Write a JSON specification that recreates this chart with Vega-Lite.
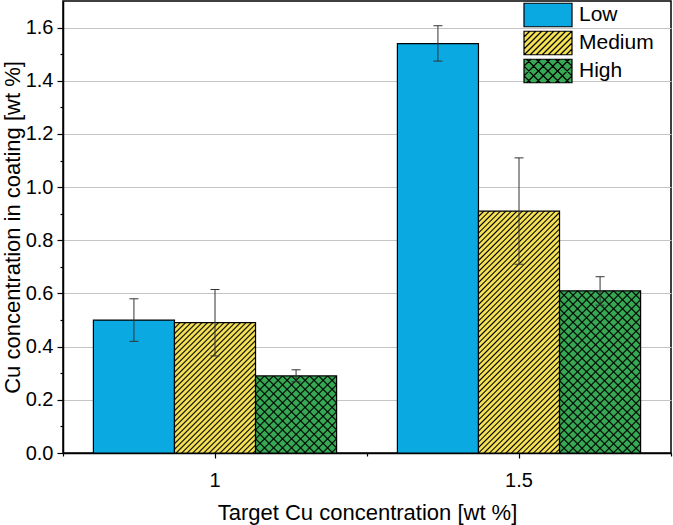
{
"$schema": "https://vega.github.io/schema/vega-lite/v6.json",
"width": 608,
"height": 452,
"autosize": {"type": "none"},
"padding": {"left": 63, "top": 1, "right": 2, "bottom": 72},
"background": "white",
"config": {
  "font": "Liberation Sans",
  "view": {"stroke": "black", "strokeWidth": 1.5},
  "axis": {"domainColor": "black", "domainWidth": 1.5, "tickColor": "black", "tickWidth": 1.2, "labelColor": "black", "titleColor": "black", "labelFont": "Liberation Sans", "titleFont": "Liberation Sans", "labelFontSize": 20, "titleFontSize": 22, "titleFontWeight": "normal"}
},
"data": {"values": [
  {"Group": "1", "Series": "Low", "Value": 0.50, "Lo": 0.42, "Hi": 0.58},
  {"Group": "1", "Series": "Medium", "Value": 0.49, "Lo": 0.365, "Hi": 0.615},
  {"Group": "1", "Series": "High", "Value": 0.29, "Lo": 0.268, "Hi": 0.313},
  {"Group": "1.5", "Series": "Low", "Value": 1.54, "Lo": 1.474, "Hi": 1.607},
  {"Group": "1.5", "Series": "Medium", "Value": 0.91, "Lo": 0.71, "Hi": 1.11},
  {"Group": "1.5", "Series": "High", "Value": 0.61, "Lo": 0.556, "Hi": 0.663}
]},
"encoding": {
  "x": {"field": "Group", "type": "nominal", "scale": {"domain": ["1", "1.5"], "paddingInner": 0, "paddingOuter": 0}, "axis": null},
  "xOffset": {"field": "Series", "type": "nominal", "scale": {"domain": ["Low", "Medium", "High"], "paddingInner": 0, "paddingOuter": 0.375}},
  "y": {"field": "Value", "type": "quantitative", "scale": {"domain": [0, 1.7], "nice": false},
    "axis": {"title": "Cu concentration in coating [wt %]", "values": [0, 0.1, 0.2, 0.3, 0.4, 0.5, 0.6, 0.7, 0.8, 0.9, 1, 1.1, 1.2, 1.3, 1.4, 1.5, 1.6],
      "labelExpr": "round(datum.value*10)%2==0 ? format(datum.value,'.1f') : ''",
      "tickSize": 6,
      "tickDash": {"condition": {"test": "round(datum.value*10)%2==0", "value": [6, 0]}, "value": [3, 10]},
      "grid": true, "gridColor": "#c4c4c4", "gridWidth": 1,
      "gridOpacity": {"condition": {"test": "round(datum.value*10)%2==0 && datum.value>0", "value": 1}, "value": 0},
      "labelPadding": 4, "titlePadding": 1}}
},
"resolve": {"axis": {"x": "independent"}},
"layer": [
  {"mark": {"type": "bar", "stroke": "black", "strokeWidth": 1.2},
   "encoding": {
     "x": {"field": "Group", "type": "nominal", "scale": {"domain": ["1", "1.5"], "paddingInner": 0, "paddingOuter": 0},
       "axis": {"title": "Target Cu concentration [wt %]", "labelAngle": 0, "tickSize": 5, "labelPadding": 12, "titlePadding": 12, "grid": false}},
     "fill": {"field": "Series", "type": "nominal", "scale": {"domain": ["High", "Low", "Medium"], "range": ["#37A955", "#0AA9E1", "#F4E156"]}, "legend": null}
   }},
  {"transform": [{"filter": "datum.Series == 'Medium' && datum.Group == '1'"}],
   "mark": {"type": "bar", "strokeWidth": 0, "fill": {"gradient": "linear", "x1": 0, "y1": 0, "x2": 1.515, "y2": 2.4347, "stops": [
{"offset":0,"color":"#000"},{"offset":0.0035,"color":"#0000"},{"offset":0.009,"color":"#0000"},
{"offset":0.0125,"color":"#000"},{"offset":0.016,"color":"#0000"},{"offset":0.0215,"color":"#0000"},
{"offset":0.025,"color":"#000"},{"offset":0.0285,"color":"#0000"},{"offset":0.034,"color":"#0000"},
{"offset":0.0375,"color":"#000"},{"offset":0.041,"color":"#0000"},{"offset":0.0465,"color":"#0000"},
{"offset":0.05,"color":"#000"},{"offset":0.0535,"color":"#0000"},{"offset":0.059,"color":"#0000"},
{"offset":0.0625,"color":"#000"},{"offset":0.066,"color":"#0000"},{"offset":0.0715,"color":"#0000"},
{"offset":0.075,"color":"#000"},{"offset":0.0785,"color":"#0000"},{"offset":0.084,"color":"#0000"},
{"offset":0.0875,"color":"#000"},{"offset":0.091,"color":"#0000"},{"offset":0.0965,"color":"#0000"},
{"offset":0.1,"color":"#000"},{"offset":0.1035,"color":"#0000"},{"offset":0.109,"color":"#0000"},
{"offset":0.1125,"color":"#000"},{"offset":0.116,"color":"#0000"},{"offset":0.1215,"color":"#0000"},
{"offset":0.125,"color":"#000"},{"offset":0.1285,"color":"#0000"},{"offset":0.134,"color":"#0000"},
{"offset":0.1375,"color":"#000"},{"offset":0.141,"color":"#0000"},{"offset":0.1465,"color":"#0000"},
{"offset":0.15,"color":"#000"},{"offset":0.1535,"color":"#0000"},{"offset":0.159,"color":"#0000"},
{"offset":0.1625,"color":"#000"},{"offset":0.166,"color":"#0000"},{"offset":0.1715,"color":"#0000"},
{"offset":0.175,"color":"#000"},{"offset":0.1785,"color":"#0000"},{"offset":0.184,"color":"#0000"},
{"offset":0.1875,"color":"#000"},{"offset":0.191,"color":"#0000"},{"offset":0.1965,"color":"#0000"},
{"offset":0.2,"color":"#000"},{"offset":0.2035,"color":"#0000"},{"offset":0.209,"color":"#0000"},
{"offset":0.2125,"color":"#000"},{"offset":0.216,"color":"#0000"},{"offset":0.2215,"color":"#0000"},
{"offset":0.225,"color":"#000"},{"offset":0.2285,"color":"#0000"},{"offset":0.234,"color":"#0000"},
{"offset":0.2375,"color":"#000"},{"offset":0.241,"color":"#0000"},{"offset":0.2465,"color":"#0000"},
{"offset":0.25,"color":"#000"},{"offset":0.2535,"color":"#0000"},{"offset":0.259,"color":"#0000"},
{"offset":0.2625,"color":"#000"},{"offset":0.266,"color":"#0000"},{"offset":0.2715,"color":"#0000"},
{"offset":0.275,"color":"#000"},{"offset":0.2785,"color":"#0000"},{"offset":0.284,"color":"#0000"},
{"offset":0.2875,"color":"#000"},{"offset":0.291,"color":"#0000"},{"offset":0.2965,"color":"#0000"},
{"offset":0.3,"color":"#000"},{"offset":0.3035,"color":"#0000"},{"offset":0.309,"color":"#0000"},
{"offset":0.3125,"color":"#000"},{"offset":0.316,"color":"#0000"},{"offset":0.3215,"color":"#0000"},
{"offset":0.325,"color":"#000"},{"offset":0.3285,"color":"#0000"},{"offset":0.334,"color":"#0000"},
{"offset":0.3375,"color":"#000"},{"offset":0.341,"color":"#0000"},{"offset":0.3465,"color":"#0000"},
{"offset":0.35,"color":"#000"},{"offset":0.3535,"color":"#0000"},{"offset":0.359,"color":"#0000"},
{"offset":0.3625,"color":"#000"},{"offset":0.366,"color":"#0000"},{"offset":0.3715,"color":"#0000"},
{"offset":0.375,"color":"#000"},{"offset":0.3785,"color":"#0000"},{"offset":0.384,"color":"#0000"},
{"offset":0.3875,"color":"#000"},{"offset":0.391,"color":"#0000"},{"offset":0.3965,"color":"#0000"},
{"offset":0.4,"color":"#000"},{"offset":0.4035,"color":"#0000"},{"offset":0.409,"color":"#0000"},
{"offset":0.4125,"color":"#000"},{"offset":0.416,"color":"#0000"},{"offset":0.4215,"color":"#0000"},
{"offset":0.425,"color":"#000"},{"offset":0.4285,"color":"#0000"},{"offset":0.434,"color":"#0000"},
{"offset":0.4375,"color":"#000"},{"offset":0.441,"color":"#0000"},{"offset":0.4465,"color":"#0000"},
{"offset":0.45,"color":"#000"},{"offset":0.4535,"color":"#0000"},{"offset":0.459,"color":"#0000"},
{"offset":0.4625,"color":"#000"},{"offset":0.466,"color":"#0000"},{"offset":0.4715,"color":"#0000"},
{"offset":0.475,"color":"#000"},{"offset":0.4785,"color":"#0000"},{"offset":0.484,"color":"#0000"},
{"offset":0.4875,"color":"#000"},{"offset":0.491,"color":"#0000"},{"offset":0.4965,"color":"#0000"}
   ]}}},
  {"transform": [{"filter": "datum.Series == 'Medium' && datum.Group == '1.5'"}],
   "mark": {"type": "bar", "strokeWidth": 0, "fill": {"gradient": "linear", "x1": 0, "y1": 0, "x2": 0.5478, "y2": 1.635, "stops": [
{"offset":0,"color":"#000"},{"offset":0.0035,"color":"#0000"},{"offset":0.009,"color":"#0000"},
{"offset":0.0125,"color":"#000"},{"offset":0.016,"color":"#0000"},{"offset":0.0215,"color":"#0000"},
{"offset":0.025,"color":"#000"},{"offset":0.0285,"color":"#0000"},{"offset":0.034,"color":"#0000"},
{"offset":0.0375,"color":"#000"},{"offset":0.041,"color":"#0000"},{"offset":0.0465,"color":"#0000"},
{"offset":0.05,"color":"#000"},{"offset":0.0535,"color":"#0000"},{"offset":0.059,"color":"#0000"},
{"offset":0.0625,"color":"#000"},{"offset":0.066,"color":"#0000"},{"offset":0.0715,"color":"#0000"},
{"offset":0.075,"color":"#000"},{"offset":0.0785,"color":"#0000"},{"offset":0.084,"color":"#0000"},
{"offset":0.0875,"color":"#000"},{"offset":0.091,"color":"#0000"},{"offset":0.0965,"color":"#0000"},
{"offset":0.1,"color":"#000"},{"offset":0.1035,"color":"#0000"},{"offset":0.109,"color":"#0000"},
{"offset":0.1125,"color":"#000"},{"offset":0.116,"color":"#0000"},{"offset":0.1215,"color":"#0000"},
{"offset":0.125,"color":"#000"},{"offset":0.1285,"color":"#0000"},{"offset":0.134,"color":"#0000"},
{"offset":0.1375,"color":"#000"},{"offset":0.141,"color":"#0000"},{"offset":0.1465,"color":"#0000"},
{"offset":0.15,"color":"#000"},{"offset":0.1535,"color":"#0000"},{"offset":0.159,"color":"#0000"},
{"offset":0.1625,"color":"#000"},{"offset":0.166,"color":"#0000"},{"offset":0.1715,"color":"#0000"},
{"offset":0.175,"color":"#000"},{"offset":0.1785,"color":"#0000"},{"offset":0.184,"color":"#0000"},
{"offset":0.1875,"color":"#000"},{"offset":0.191,"color":"#0000"},{"offset":0.1965,"color":"#0000"},
{"offset":0.2,"color":"#000"},{"offset":0.2035,"color":"#0000"},{"offset":0.209,"color":"#0000"},
{"offset":0.2125,"color":"#000"},{"offset":0.216,"color":"#0000"},{"offset":0.2215,"color":"#0000"},
{"offset":0.225,"color":"#000"},{"offset":0.2285,"color":"#0000"},{"offset":0.234,"color":"#0000"},
{"offset":0.2375,"color":"#000"},{"offset":0.241,"color":"#0000"},{"offset":0.2465,"color":"#0000"},
{"offset":0.25,"color":"#000"},{"offset":0.2535,"color":"#0000"},{"offset":0.259,"color":"#0000"},
{"offset":0.2625,"color":"#000"},{"offset":0.266,"color":"#0000"},{"offset":0.2715,"color":"#0000"},
{"offset":0.275,"color":"#000"},{"offset":0.2785,"color":"#0000"},{"offset":0.284,"color":"#0000"},
{"offset":0.2875,"color":"#000"},{"offset":0.291,"color":"#0000"},{"offset":0.2965,"color":"#0000"},
{"offset":0.3,"color":"#000"},{"offset":0.3035,"color":"#0000"},{"offset":0.309,"color":"#0000"},
{"offset":0.3125,"color":"#000"},{"offset":0.316,"color":"#0000"},{"offset":0.3215,"color":"#0000"},
{"offset":0.325,"color":"#000"},{"offset":0.3285,"color":"#0000"},{"offset":0.334,"color":"#0000"},
{"offset":0.3375,"color":"#000"},{"offset":0.341,"color":"#0000"},{"offset":0.3465,"color":"#0000"},
{"offset":0.35,"color":"#000"},{"offset":0.3535,"color":"#0000"},{"offset":0.359,"color":"#0000"},
{"offset":0.3625,"color":"#000"},{"offset":0.366,"color":"#0000"},{"offset":0.3715,"color":"#0000"},
{"offset":0.375,"color":"#000"},{"offset":0.3785,"color":"#0000"},{"offset":0.384,"color":"#0000"},
{"offset":0.3875,"color":"#000"},{"offset":0.391,"color":"#0000"},{"offset":0.3965,"color":"#0000"},
{"offset":0.4,"color":"#000"},{"offset":0.4035,"color":"#0000"},{"offset":0.409,"color":"#0000"},
{"offset":0.4125,"color":"#000"},{"offset":0.416,"color":"#0000"},{"offset":0.4215,"color":"#0000"},
{"offset":0.425,"color":"#000"},{"offset":0.4285,"color":"#0000"},{"offset":0.434,"color":"#0000"},
{"offset":0.4375,"color":"#000"},{"offset":0.441,"color":"#0000"},{"offset":0.4465,"color":"#0000"},
{"offset":0.45,"color":"#000"},{"offset":0.4535,"color":"#0000"},{"offset":0.459,"color":"#0000"},
{"offset":0.4625,"color":"#000"},{"offset":0.466,"color":"#0000"},{"offset":0.4715,"color":"#0000"},
{"offset":0.475,"color":"#000"},{"offset":0.4785,"color":"#0000"},{"offset":0.484,"color":"#0000"},
{"offset":0.4875,"color":"#000"},{"offset":0.491,"color":"#0000"},{"offset":0.4965,"color":"#0000"},
{"offset":0.5,"color":"#000"},{"offset":0.5035,"color":"#0000"},{"offset":0.509,"color":"#0000"},
{"offset":0.5125,"color":"#000"},{"offset":0.516,"color":"#0000"},{"offset":0.5215,"color":"#0000"},
{"offset":0.525,"color":"#000"},{"offset":0.5285,"color":"#0000"},{"offset":0.534,"color":"#0000"},
{"offset":0.5375,"color":"#000"},{"offset":0.541,"color":"#0000"},{"offset":0.5465,"color":"#0000"},
{"offset":0.55,"color":"#000"},{"offset":0.5535,"color":"#0000"},{"offset":0.559,"color":"#0000"},
{"offset":0.5625,"color":"#000"},{"offset":0.566,"color":"#0000"},{"offset":0.5715,"color":"#0000"},
{"offset":0.575,"color":"#000"},{"offset":0.5785,"color":"#0000"},{"offset":0.584,"color":"#0000"},
{"offset":0.5875,"color":"#000"},{"offset":0.591,"color":"#0000"},{"offset":0.5965,"color":"#0000"},
{"offset":0.6,"color":"#000"},{"offset":0.6035,"color":"#0000"},{"offset":0.609,"color":"#0000"},
{"offset":0.6125,"color":"#000"},{"offset":0.616,"color":"#0000"},{"offset":0.6215,"color":"#0000"},
{"offset":0.625,"color":"#000"},{"offset":0.6285,"color":"#0000"},{"offset":0.634,"color":"#0000"},
{"offset":0.6375,"color":"#000"},{"offset":0.641,"color":"#0000"},{"offset":0.6465,"color":"#0000"},
{"offset":0.65,"color":"#000"},{"offset":0.6535,"color":"#0000"},{"offset":0.659,"color":"#0000"},
{"offset":0.6625,"color":"#000"},{"offset":0.666,"color":"#0000"},{"offset":0.6715,"color":"#0000"},
{"offset":0.675,"color":"#000"},{"offset":0.6785,"color":"#0000"},{"offset":0.684,"color":"#0000"},
{"offset":0.6875,"color":"#000"},{"offset":0.691,"color":"#0000"},{"offset":0.6965,"color":"#0000"},
{"offset":0.7,"color":"#000"},{"offset":0.7035,"color":"#0000"},{"offset":0.709,"color":"#0000"},
{"offset":0.7125,"color":"#000"},{"offset":0.716,"color":"#0000"},{"offset":0.7215,"color":"#0000"},
{"offset":0.725,"color":"#000"},{"offset":0.7285,"color":"#0000"},{"offset":0.734,"color":"#0000"},
{"offset":0.7375,"color":"#000"},{"offset":0.741,"color":"#0000"},{"offset":0.7465,"color":"#0000"}
   ]}}},
  {"transform": [{"filter": "datum.Series == 'High' && datum.Group == '1'"}],
   "mark": {"type": "bar", "strokeWidth": 0, "fill": {"gradient": "linear", "x1": 0, "y1": 0, "x2": 2.3316, "y2": 2.2176, "stops": [
{"offset":0,"color":"#000"},{"offset":0.0045,"color":"#0000"},{"offset":0.0205,"color":"#0000"},
{"offset":0.025,"color":"#000"},{"offset":0.0295,"color":"#0000"},{"offset":0.0455,"color":"#0000"},
{"offset":0.05,"color":"#000"},{"offset":0.0545,"color":"#0000"},{"offset":0.0705,"color":"#0000"},
{"offset":0.075,"color":"#000"},{"offset":0.0795,"color":"#0000"},{"offset":0.0955,"color":"#0000"},
{"offset":0.1,"color":"#000"},{"offset":0.1045,"color":"#0000"},{"offset":0.1205,"color":"#0000"},
{"offset":0.125,"color":"#000"},{"offset":0.1295,"color":"#0000"},{"offset":0.1455,"color":"#0000"},
{"offset":0.15,"color":"#000"},{"offset":0.1545,"color":"#0000"},{"offset":0.1705,"color":"#0000"},
{"offset":0.175,"color":"#000"},{"offset":0.1795,"color":"#0000"},{"offset":0.1955,"color":"#0000"},
{"offset":0.2,"color":"#000"},{"offset":0.2045,"color":"#0000"},{"offset":0.2205,"color":"#0000"},
{"offset":0.225,"color":"#000"},{"offset":0.2295,"color":"#0000"},{"offset":0.2455,"color":"#0000"},
{"offset":0.25,"color":"#000"},{"offset":0.2545,"color":"#0000"},{"offset":0.2705,"color":"#0000"},
{"offset":0.275,"color":"#000"},{"offset":0.2795,"color":"#0000"},{"offset":0.2955,"color":"#0000"},
{"offset":0.3,"color":"#000"},{"offset":0.3045,"color":"#0000"},{"offset":0.3205,"color":"#0000"},
{"offset":0.325,"color":"#000"},{"offset":0.3295,"color":"#0000"},{"offset":0.3455,"color":"#0000"},
{"offset":0.35,"color":"#000"},{"offset":0.3545,"color":"#0000"},{"offset":0.3705,"color":"#0000"},
{"offset":0.375,"color":"#000"},{"offset":0.3795,"color":"#0000"},{"offset":0.3955,"color":"#0000"},
{"offset":0.4,"color":"#000"},{"offset":0.4045,"color":"#0000"},{"offset":0.4205,"color":"#0000"},
{"offset":0.425,"color":"#000"},{"offset":0.4295,"color":"#0000"},{"offset":0.4455,"color":"#0000"},
{"offset":0.45,"color":"#000"},{"offset":0.4545,"color":"#0000"},{"offset":0.4705,"color":"#0000"}
   ]}}},
  {"transform": [{"filter": "datum.Series == 'High' && datum.Group == '1'"}],
   "mark": {"type": "bar", "strokeWidth": 0, "fill": {"gradient": "linear", "x1": 1, "y1": 0, "x2": -1.3316, "y2": 2.2176, "stops": [
{"offset":0,"color":"#000"},{"offset":0.0045,"color":"#0000"},{"offset":0.0205,"color":"#0000"},
{"offset":0.025,"color":"#000"},{"offset":0.0295,"color":"#0000"},{"offset":0.0455,"color":"#0000"},
{"offset":0.05,"color":"#000"},{"offset":0.0545,"color":"#0000"},{"offset":0.0705,"color":"#0000"},
{"offset":0.075,"color":"#000"},{"offset":0.0795,"color":"#0000"},{"offset":0.0955,"color":"#0000"},
{"offset":0.1,"color":"#000"},{"offset":0.1045,"color":"#0000"},{"offset":0.1205,"color":"#0000"},
{"offset":0.125,"color":"#000"},{"offset":0.1295,"color":"#0000"},{"offset":0.1455,"color":"#0000"},
{"offset":0.15,"color":"#000"},{"offset":0.1545,"color":"#0000"},{"offset":0.1705,"color":"#0000"},
{"offset":0.175,"color":"#000"},{"offset":0.1795,"color":"#0000"},{"offset":0.1955,"color":"#0000"},
{"offset":0.2,"color":"#000"},{"offset":0.2045,"color":"#0000"},{"offset":0.2205,"color":"#0000"},
{"offset":0.225,"color":"#000"},{"offset":0.2295,"color":"#0000"},{"offset":0.2455,"color":"#0000"},
{"offset":0.25,"color":"#000"},{"offset":0.2545,"color":"#0000"},{"offset":0.2705,"color":"#0000"},
{"offset":0.275,"color":"#000"},{"offset":0.2795,"color":"#0000"},{"offset":0.2955,"color":"#0000"},
{"offset":0.3,"color":"#000"},{"offset":0.3045,"color":"#0000"},{"offset":0.3205,"color":"#0000"},
{"offset":0.325,"color":"#000"},{"offset":0.3295,"color":"#0000"},{"offset":0.3455,"color":"#0000"},
{"offset":0.35,"color":"#000"},{"offset":0.3545,"color":"#0000"},{"offset":0.3705,"color":"#0000"},
{"offset":0.375,"color":"#000"},{"offset":0.3795,"color":"#0000"},{"offset":0.3955,"color":"#0000"},
{"offset":0.4,"color":"#000"},{"offset":0.4045,"color":"#0000"},{"offset":0.4205,"color":"#0000"},
{"offset":0.425,"color":"#000"},{"offset":0.4295,"color":"#0000"},{"offset":0.4455,"color":"#0000"},
{"offset":0.45,"color":"#000"},{"offset":0.4545,"color":"#0000"},{"offset":0.4705,"color":"#0000"}
   ]}}},
  {"transform": [{"filter": "datum.Series == 'High' && datum.Group == '1.5'"}],
   "mark": {"type": "bar", "strokeWidth": 0, "fill": {"gradient": "linear", "x1": 0, "y1": 0, "x2": 0.8877, "y2": 1.7759, "stops": [
{"offset":0,"color":"#000"},{"offset":0.0045,"color":"#0000"},{"offset":0.0205,"color":"#0000"},
{"offset":0.025,"color":"#000"},{"offset":0.0295,"color":"#0000"},{"offset":0.0455,"color":"#0000"},
{"offset":0.05,"color":"#000"},{"offset":0.0545,"color":"#0000"},{"offset":0.0705,"color":"#0000"},
{"offset":0.075,"color":"#000"},{"offset":0.0795,"color":"#0000"},{"offset":0.0955,"color":"#0000"},
{"offset":0.1,"color":"#000"},{"offset":0.1045,"color":"#0000"},{"offset":0.1205,"color":"#0000"},
{"offset":0.125,"color":"#000"},{"offset":0.1295,"color":"#0000"},{"offset":0.1455,"color":"#0000"},
{"offset":0.15,"color":"#000"},{"offset":0.1545,"color":"#0000"},{"offset":0.1705,"color":"#0000"},
{"offset":0.175,"color":"#000"},{"offset":0.1795,"color":"#0000"},{"offset":0.1955,"color":"#0000"},
{"offset":0.2,"color":"#000"},{"offset":0.2045,"color":"#0000"},{"offset":0.2205,"color":"#0000"},
{"offset":0.225,"color":"#000"},{"offset":0.2295,"color":"#0000"},{"offset":0.2455,"color":"#0000"},
{"offset":0.25,"color":"#000"},{"offset":0.2545,"color":"#0000"},{"offset":0.2705,"color":"#0000"},
{"offset":0.275,"color":"#000"},{"offset":0.2795,"color":"#0000"},{"offset":0.2955,"color":"#0000"},
{"offset":0.3,"color":"#000"},{"offset":0.3045,"color":"#0000"},{"offset":0.3205,"color":"#0000"},
{"offset":0.325,"color":"#000"},{"offset":0.3295,"color":"#0000"},{"offset":0.3455,"color":"#0000"},
{"offset":0.35,"color":"#000"},{"offset":0.3545,"color":"#0000"},{"offset":0.3705,"color":"#0000"},
{"offset":0.375,"color":"#000"},{"offset":0.3795,"color":"#0000"},{"offset":0.3955,"color":"#0000"},
{"offset":0.4,"color":"#000"},{"offset":0.4045,"color":"#0000"},{"offset":0.4205,"color":"#0000"},
{"offset":0.425,"color":"#000"},{"offset":0.4295,"color":"#0000"},{"offset":0.4455,"color":"#0000"},
{"offset":0.45,"color":"#000"},{"offset":0.4545,"color":"#0000"},{"offset":0.4705,"color":"#0000"},
{"offset":0.475,"color":"#000"},{"offset":0.4795,"color":"#0000"},{"offset":0.4955,"color":"#0000"},
{"offset":0.5,"color":"#000"},{"offset":0.5045,"color":"#0000"},{"offset":0.5205,"color":"#0000"},
{"offset":0.525,"color":"#000"},{"offset":0.5295,"color":"#0000"},{"offset":0.5455,"color":"#0000"},
{"offset":0.55,"color":"#000"},{"offset":0.5545,"color":"#0000"},{"offset":0.5705,"color":"#0000"},
{"offset":0.575,"color":"#000"},{"offset":0.5795,"color":"#0000"},{"offset":0.5955,"color":"#0000"},
{"offset":0.6,"color":"#000"},{"offset":0.6045,"color":"#0000"},{"offset":0.6205,"color":"#0000"},
{"offset":0.625,"color":"#000"},{"offset":0.6295,"color":"#0000"},{"offset":0.6455,"color":"#0000"},
{"offset":0.65,"color":"#000"},{"offset":0.6545,"color":"#0000"},{"offset":0.6705,"color":"#0000"},
{"offset":0.675,"color":"#000"},{"offset":0.6795,"color":"#0000"},{"offset":0.6955,"color":"#0000"},
{"offset":0.7,"color":"#000"},{"offset":0.7045,"color":"#0000"},{"offset":0.7205,"color":"#0000"}
   ]}}},
  {"transform": [{"filter": "datum.Series == 'High' && datum.Group == '1.5'"}],
   "mark": {"type": "bar", "strokeWidth": 0, "fill": {"gradient": "linear", "x1": 1, "y1": 0, "x2": 0.1123, "y2": 1.7759, "stops": [
{"offset":0,"color":"#000"},{"offset":0.0045,"color":"#0000"},{"offset":0.0205,"color":"#0000"},
{"offset":0.025,"color":"#000"},{"offset":0.0295,"color":"#0000"},{"offset":0.0455,"color":"#0000"},
{"offset":0.05,"color":"#000"},{"offset":0.0545,"color":"#0000"},{"offset":0.0705,"color":"#0000"},
{"offset":0.075,"color":"#000"},{"offset":0.0795,"color":"#0000"},{"offset":0.0955,"color":"#0000"},
{"offset":0.1,"color":"#000"},{"offset":0.1045,"color":"#0000"},{"offset":0.1205,"color":"#0000"},
{"offset":0.125,"color":"#000"},{"offset":0.1295,"color":"#0000"},{"offset":0.1455,"color":"#0000"},
{"offset":0.15,"color":"#000"},{"offset":0.1545,"color":"#0000"},{"offset":0.1705,"color":"#0000"},
{"offset":0.175,"color":"#000"},{"offset":0.1795,"color":"#0000"},{"offset":0.1955,"color":"#0000"},
{"offset":0.2,"color":"#000"},{"offset":0.2045,"color":"#0000"},{"offset":0.2205,"color":"#0000"},
{"offset":0.225,"color":"#000"},{"offset":0.2295,"color":"#0000"},{"offset":0.2455,"color":"#0000"},
{"offset":0.25,"color":"#000"},{"offset":0.2545,"color":"#0000"},{"offset":0.2705,"color":"#0000"},
{"offset":0.275,"color":"#000"},{"offset":0.2795,"color":"#0000"},{"offset":0.2955,"color":"#0000"},
{"offset":0.3,"color":"#000"},{"offset":0.3045,"color":"#0000"},{"offset":0.3205,"color":"#0000"},
{"offset":0.325,"color":"#000"},{"offset":0.3295,"color":"#0000"},{"offset":0.3455,"color":"#0000"},
{"offset":0.35,"color":"#000"},{"offset":0.3545,"color":"#0000"},{"offset":0.3705,"color":"#0000"},
{"offset":0.375,"color":"#000"},{"offset":0.3795,"color":"#0000"},{"offset":0.3955,"color":"#0000"},
{"offset":0.4,"color":"#000"},{"offset":0.4045,"color":"#0000"},{"offset":0.4205,"color":"#0000"},
{"offset":0.425,"color":"#000"},{"offset":0.4295,"color":"#0000"},{"offset":0.4455,"color":"#0000"},
{"offset":0.45,"color":"#000"},{"offset":0.4545,"color":"#0000"},{"offset":0.4705,"color":"#0000"},
{"offset":0.475,"color":"#000"},{"offset":0.4795,"color":"#0000"},{"offset":0.4955,"color":"#0000"},
{"offset":0.5,"color":"#000"},{"offset":0.5045,"color":"#0000"},{"offset":0.5205,"color":"#0000"},
{"offset":0.525,"color":"#000"},{"offset":0.5295,"color":"#0000"},{"offset":0.5455,"color":"#0000"},
{"offset":0.55,"color":"#000"},{"offset":0.5545,"color":"#0000"},{"offset":0.5705,"color":"#0000"},
{"offset":0.575,"color":"#000"},{"offset":0.5795,"color":"#0000"},{"offset":0.5955,"color":"#0000"},
{"offset":0.6,"color":"#000"},{"offset":0.6045,"color":"#0000"},{"offset":0.6205,"color":"#0000"},
{"offset":0.625,"color":"#000"},{"offset":0.6295,"color":"#0000"},{"offset":0.6455,"color":"#0000"},
{"offset":0.65,"color":"#000"},{"offset":0.6545,"color":"#0000"},{"offset":0.6705,"color":"#0000"},
{"offset":0.675,"color":"#000"},{"offset":0.6795,"color":"#0000"},{"offset":0.6955,"color":"#0000"},
{"offset":0.7,"color":"#000"},{"offset":0.7045,"color":"#0000"},{"offset":0.7205,"color":"#0000"}
   ]}}},
  {"mark": {"type": "rule", "color": "#333", "strokeWidth": 1},
   "encoding": {
     "x": {"field": "Group", "type": "nominal", "scale": {"domain": ["1", "1.5"], "paddingInner": 0, "paddingOuter": 0},
       "axis": {"orient": "bottom", "tickBand": "extent", "labels": false, "domain": false, "ticks": true, "tickSize": 3, "title": null, "grid": false}},
     "y": {"field": "Lo", "type": "quantitative", "scale": {"domain": [0, 1.7], "nice": false}},
     "y2": {"field": "Hi"}
   }},
  {"mark": {"type": "tick", "color": "#333", "size": 9, "thickness": 1, "opacity": 1},
   "encoding": {"y": {"field": "Hi", "type": "quantitative", "scale": {"domain": [0, 1.7], "nice": false}}}},
  {"mark": {"type": "tick", "color": "#333", "size": 9, "thickness": 1, "opacity": 1},
   "encoding": {"y": {"field": "Lo", "type": "quantitative", "scale": {"domain": [0, 1.7], "nice": false}}}},
  {"transform": [{"filter": "false"}],
   "mark": {"type": "point", "filled": true, "opacity": 1, "stroke": "black", "strokeWidth": 1.2},
   "encoding": {
     "color": {"field": "Series", "type": "nominal", "scale": {"domain": ["Low", "Medium", "High"], "range": ["#0AA9E1", "#F4E156", "#37A955"]},
       "legend": {"title": null, "orient": "none", "legendX": 472, "legendY": 1, "padding": 0, "symbolSize": 576, "symbolStrokeColor": "black", "symbolStrokeWidth": 1.2, "symbolOpacity": 1, "labelFont": "Liberation Sans", "labelFontSize": 21, "labelColor": "black", "labelOffset": 18, "rowPadding": -5,
         "encode": {"symbols": {"update": {"stroke": {"value": "black"}, "strokeWidth": {"value": 1.2}, "strokeOpacity": {"value": 1}}}}}},
     "shape": {"field": "Series", "type": "nominal", "scale": {"domain": ["Low", "Medium", "High"], "range": [
       "M-2,-0.98H2V0.98H-2Z",
       "M-2,-0.98H2V0.98H-2Z M-2,-0.5L-1.52,-0.98 M-2,0L-1.02,-0.98 M-2,0.5L-0.52,-0.98 M-1.98,0.98L-0.02,-0.98 M-1.48,0.98L0.48,-0.98 M-0.98,0.98L0.98,-0.98 M-0.48,0.98L1.48,-0.98 M0.02,0.98L1.98,-0.98 M0.52,0.98L2,-0.5 M1.02,0.98L2,0 M1.52,0.98L2,0.5",
       "M-2,-0.98H2V0.98H-2Z M-2,-0.4L-1.42,-0.98 M-2,0.4L-0.62,-0.98 M-1.78,0.98L0.18,-0.98 M-0.98,0.98L0.98,-0.98 M-0.18,0.98L1.78,-0.98 M0.62,0.98L2,-0.4 M1.42,0.98L2,0.4 M-2,0.4L-1.42,0.98 M-2,-0.4L-0.62,0.98 M-1.78,-0.98L0.18,0.98 M-0.98,-0.98L0.98,0.98 M-0.18,-0.98L1.78,0.98 M0.62,-0.98L2,0.4 M1.42,-0.98L2,-0.4"
     ]},
       "legend": {"title": null, "orient": "none", "legendX": 472, "legendY": 1, "padding": 0, "symbolSize": 576, "symbolStrokeColor": "black", "symbolStrokeWidth": 1.2, "symbolOpacity": 1, "labelFont": "Liberation Sans", "labelFontSize": 21, "labelColor": "black", "labelOffset": 18, "rowPadding": -5,
         "encode": {"symbols": {"update": {"stroke": {"value": "black"}, "strokeWidth": {"value": 1.2}, "strokeOpacity": {"value": 1}}}}}}
   }}
]
}
